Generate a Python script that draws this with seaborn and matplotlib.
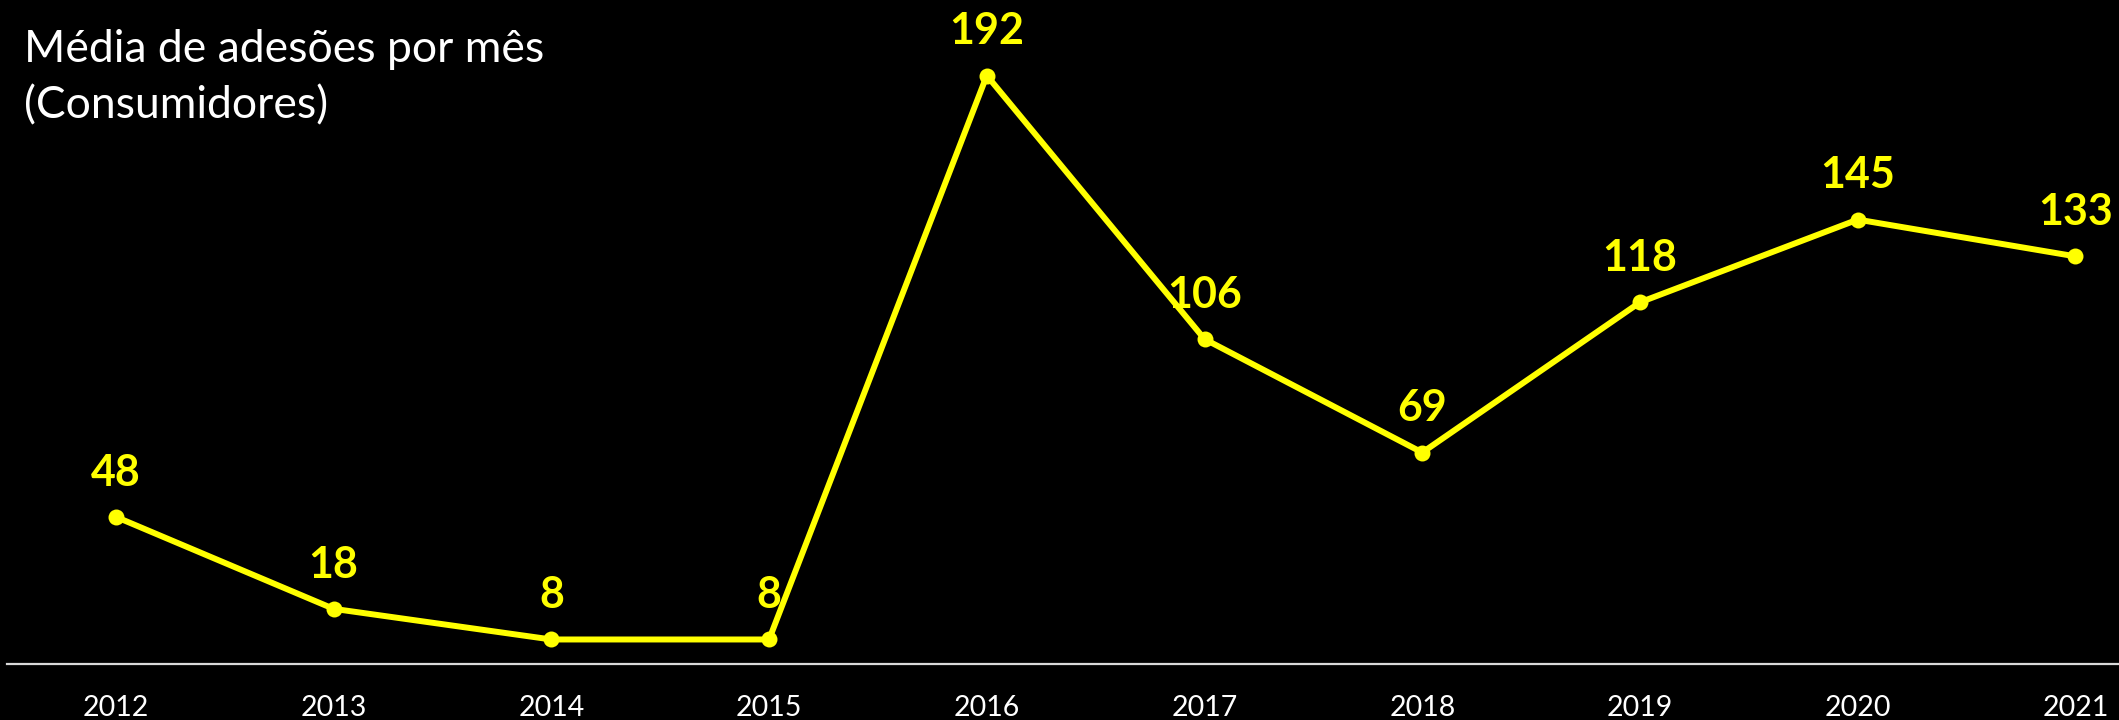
import numpy as np
import pandas as pd
import matplotlib
matplotlib.use("Agg")
import matplotlib.pyplot as plt
import seaborn as sns

years = [2012, 2013, 2014, 2015, 2016, 2017, 2018, 2019, 2020, 2021]
values = [48, 18, 8, 8, 192, 106, 69, 118, 145, 133]
tick_labels = [str(y) for y in years]
title_line1 = "Média de adesões por mês"
title_line2 = "(Consumidores)"

sns.set_theme(style="dark")
plt.rcParams["font.family"] = ["Lato", "DejaVu Sans"]

W, H = 2119, 720
fig = plt.figure(figsize=(W / 100, H / 100), dpi=100, facecolor="black")
ax = fig.add_axes([7 / W, 56 / H, 1 - 7 / W, 664 / H])
ax.set_facecolor("black")

df = pd.DataFrame({"year": years, "value": values})
sns.lineplot(data=df, x="year", y="value", ax=ax, color="#FFFF00", linewidth=4.3,
             marker="o", markersize=11.5, markeredgewidth=0, clip_on=False)

ax.set_xlim(2011.5, 2021.2)
ax.set_ylim(0, 664 / 3.065)

for x, v in zip(years, values):
    ax.annotate(str(v), (x, v), xytext=(0, 22.5), textcoords="offset points",
                ha="center", va="baseline", fontsize=31, fontweight="bold",
                color="#FFFF00")

ax.set_xticks(years)
ax.set_xticklabels(tick_labels, fontsize=20.5, color="white")
ax.tick_params(axis="x", length=0, pad=22.5)
ax.set_yticks([])
ax.set_xlabel("")
ax.set_ylabel("")
ax.grid(False)
for s in ["top", "left", "right"]:
    ax.spines[s].set_visible(False)
ax.spines["bottom"].set_color("#D9D9D9")
ax.spines["bottom"].set_linewidth(1.6)

fig.text(24 / W, 1 - 62 / H, title_line1, fontsize=32, color="white", va="baseline", ha="left")
fig.text(24 / W, 1 - 118 / H, title_line2, fontsize=32, color="white", va="baseline", ha="left")

fig.savefig("out.png", dpi=100, facecolor="black")
